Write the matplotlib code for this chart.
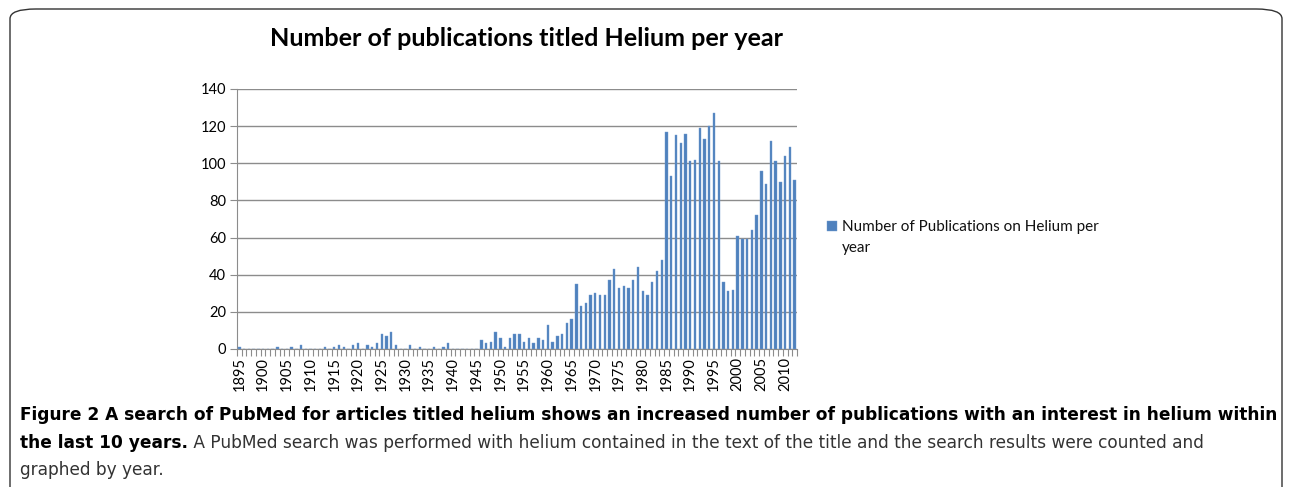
import numpy as np
import matplotlib.pyplot as plt
from matplotlib.patches import FancyBboxPatch

# data (PubMed hits per year)
years = np.arange(1895, 2013)
counts = {
    1895: 1, 1903: 1, 1906: 1, 1908: 2, 1913: 1, 1915: 1, 1916: 2, 1917: 1,
    1919: 2, 1920: 3, 1922: 2, 1923: 1, 1924: 3, 1925: 8, 1926: 7, 1927: 9,
    1928: 2, 1931: 2, 1933: 1, 1936: 1, 1938: 1, 1939: 3,
    1946: 5, 1947: 3, 1948: 4, 1949: 9, 1950: 6, 1951: 1, 1952: 6, 1953: 8,
    1954: 8, 1955: 4, 1956: 6, 1957: 3, 1958: 6, 1959: 5, 1960: 13, 1961: 4,
    1962: 7, 1963: 8, 1964: 14, 1965: 16, 1966: 35, 1967: 23, 1968: 25,
    1969: 29, 1970: 30, 1971: 29, 1972: 29, 1973: 37, 1974: 43, 1975: 33,
    1976: 34, 1977: 33, 1978: 37, 1979: 44, 1980: 31, 1981: 29, 1982: 36,
    1983: 42, 1984: 48, 1985: 117, 1986: 93, 1987: 115, 1988: 111, 1989: 116,
    1990: 101, 1991: 102, 1992: 119, 1993: 113, 1994: 120, 1995: 127,
    1996: 101, 1997: 36, 1998: 31, 1999: 32, 2000: 61, 2001: 59, 2002: 59,
    2003: 64, 2004: 72, 2005: 96, 2006: 89, 2007: 112, 2008: 101, 2009: 90,
    2010: 104, 2011: 109, 2012: 91,
}
values = [counts.get(y, 0) for y in years]
label_years = np.arange(1895, 2011, 5)
yticks = [0, 20, 40, 60, 80, 100, 120, 140]

title = "Number of publications titled Helium per year"
series_name = "Number of Publications on Helium per"
series_name2 = "year"  # wrapped second line of the legend entry
cap1 = ("Figure 2 A search of PubMed for articles titled helium shows an increased "
        "number of publications with an interest in helium within")
cap2_bold = "the last 10 years."
cap2 = (" A PubMed search was performed with helium contained in the text of the "
        "title and the search results were counted and")
cap3 = "graphed by year."

W, H = 1292, 487
fig = plt.figure(figsize=(W / 100, H / 100), dpi=100)

# frame round the figure
box = FancyBboxPatch((10 / W, -0.2), (1272 / W), 1.2 - 9 / H,
                     boxstyle="round,pad=0,rounding_size=0.02",
                     transform=fig.transFigure, fill=False,
                     edgecolor="#333333", linewidth=1.0)
fig.patches.append(box)

ax = fig.add_axes([237 / W, 1 - 349 / H, 560 / W, 260 / H])
x = np.arange(len(years))
ax.bar(x, values, width=0.5, color="#4F81BD", edgecolor="#6f9ad0",
       linewidth=0.3, label=series_name, zorder=3)
ax.set_xlim(-0.5, len(years) - 0.5)
ax.set_ylim(0, 140)
ax.set_yticks(yticks)
ax.set_yticklabels([str(v) for v in yticks], fontsize=10.5, family="Lato")
ax.yaxis.grid(True, color="#8c8c8c", linewidth=1.0, zorder=0)
ax.tick_params(axis="y", length=5, color="#8c8c8c", pad=3)

# ticks on category boundaries, labels on every 5th year
ax.set_xticks(np.arange(len(years) + 1) - 0.5)
ax.set_xticklabels([])
ax.tick_params(axis="x", which="major", length=5, color="#8c8c8c")
ax.set_xticks([list(years).index(y) for y in label_years], minor=True)
ax.set_xticklabels([str(y) for y in label_years], minor=True, rotation=90,
                   fontsize=10.5, family="Lato")
ax.tick_params(axis="x", which="minor", length=0, pad=6)

for s in ["top", "right"]:
    ax.spines[s].set_visible(False)
for s in ["left", "bottom"]:
    ax.spines[s].set_color("#8c8c8c")

leg = ax.legend(loc="center left", bbox_to_anchor=(827 / W, 1 - 227 / H),
                bbox_transform=fig.transFigure, frameon=False,
                prop={"family": "Lato", "size": 11}, handlelength=0.65,
                handleheight=0.65, handletextpad=0.3, borderaxespad=0,
                borderpad=0)
for t in leg.get_texts():
    t.set_color("#111111")

fig.canvas.draw()
r = fig.canvas.get_renderer()
lt = leg.get_texts()[0].get_window_extent(renderer=r)
fig.text(lt.x0 / W, 1 - 248 / H, series_name2, ha="left", va="center",
         fontsize=11, family="Lato", color="#111111")


def fit(t, width_px):
    bb = t.get_window_extent(renderer=r)
    t.set_fontsize(t.get_fontsize() * width_px / bb.width)


t = fig.text(526 / W, 1 - 38 / H, title, ha="center", va="center",
             fontsize=15, fontweight="bold", family="Lato")
fit(t, 515)

capfont = "DejaVu Sans"
c1 = fig.text(20 / W, 1 - 415 / H, cap1, ha="left", va="center",
              fontsize=12, fontweight="bold", family=capfont)
fit(c1, 1250)
fs = c1.get_fontsize()
c2b = fig.text(20 / W, 1 - 443 / H, cap2_bold, ha="left", va="center",
               fontsize=fs, fontweight="bold", family=capfont)
bb = c2b.get_window_extent(renderer=r)
fig.text(bb.x1 / W, 1 - 443 / H, cap2, ha="left", va="center",
         fontsize=fs, color="#333333", family=capfont)
fig.text(20 / W, 1 - 470 / H, cap3, ha="left", va="center",
         fontsize=fs, color="#333333", family=capfont)

fig.savefig("out.png", dpi=100)
